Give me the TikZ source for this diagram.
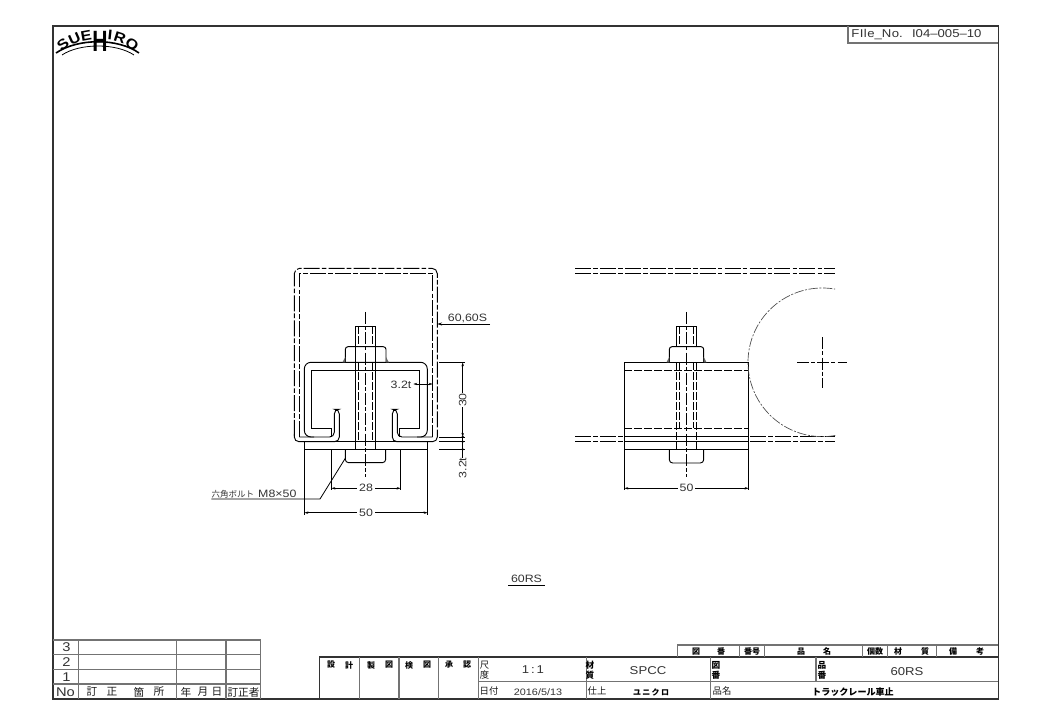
\documentclass[tikz,border=0pt]{standalone}
\usepackage{graphicx}
\usepackage{fontspec}
\setmainfont[FakeStretch=1.16]{Liberation Sans}
\newfontfamily\cjk{Noto Sans CJK JP}
\usetikzlibrary{arrows.meta}
\tikzset{
 ln/.style={line width=0.7pt,black},
 dd/.style={line width=0.7pt,black,dash pattern=on 12pt off 1.6pt on 3.5pt off 1.6pt},
 cl/.style={line width=0.6pt,black,dash pattern=on 9pt off 1.6pt on 3pt off 1.6pt},
 ds/.style={line width=0.7pt,black,dash pattern=on 6pt off 1.5pt},
 dim/.style={line width=0.6pt,black},
 arr/.style={dim,{Stealth[length=3pt,width=1.8pt]}-{Stealth[length=3pt,width=1.8pt]}},
 arre/.style={dim,-{Stealth[length=3.5pt,width=2.2pt]}},
 hv/.style={line width=0.9pt,black!80},
 gl/.style={line width=0.8pt,black!55},
 tx/.style={inner sep=0pt,text=black!80,font=\fontsize{8}{8}\selectfont},
 jp/.style={inner sep=0pt,text=black!90,font=\cjk\fontsize{8}{9}\selectfont,align=center},
 jb/.style={inner sep=0pt,text=black,font=\cjk\bfseries\fontsize{6}{7}\selectfont,align=center},
 lg/.style={inner sep=0pt,text=black,font=\bfseries\fontsize{10.5}{11}\selectfont},
}
\begin{document}
\begin{tikzpicture}[x=0.75pt,y=-0.75pt]
\useasboundingbox (0,0) rectangle (1050,723);
\fill[white] (0,0) rectangle (1050,723);
% frame
\draw[hv] (53,26) rectangle (998.3,699);
\draw[hv,line width=1pt] (848,26) -- (998.3,26) -- (998.3,699);
\draw[gl] (848,26) -- (848,43) -- (998.3,43);
\node[tx,font=\fontsize{8.5}{8.5}\selectfont] (fileno) at (916.5,34.5) {F\hspace{0.3pt}I\hspace{0.3pt}l\hspace{0.3pt}e\_N\hspace{0.3pt}o.\hspace{7pt}I04--005--10};
% logo
\draw[line width=1.2pt] (56,53) .. controls (78,38) and (118,38) .. (139,53);
\draw[line width=0.6pt] (62,55) .. controls (80,43) and (116,43) .. (134,55);
\node[lg,rotate=38] (lgS) at (63,44) {S};
\node[lg,rotate=24] (lgU) at (74.5,38.5) {U};
\node[lg,rotate=10] (lgE) at (86,35.5) {E};
\node[inner sep=0pt,font=\bfseries\fontsize{22}{22}\selectfont] (lgH) at (100,41) {\scalebox{0.62}[1]{H}};
\node[lg,rotate=-6] (lgI) at (110,35) {I};
\node[lg,rotate=-18] (lgR) at (120,37.5) {R};
\node[lg,rotate=-36] (lgO) at (132,44) {O};
% ===== left view
\draw[dd,rounded corners=4pt] (294.3,436) -- (294.3,268.3) -- (437.3,268.3) -- (437.3,436);
\draw[dd] (299.3,437) -- (299.3,273.3) -- (432.7,273.3) -- (432.7,437);
\draw[ln,rounded corners=3.5pt] (294.3,434) -- (294.3,441.7) -- (339.3,441.7) -- (339.3,409.3) -- (334.3,409.3) -- (334.3,437) -- (299.3,437);
\draw[ln,rounded corners=3.5pt] (437.3,434) -- (437.3,441.7) -- (392.3,441.7) -- (392.3,409.3) -- (397.3,409.3) -- (397.3,437) -- (432.7,437);
\draw[ln] (331.7,437) -- (331.7,428.3) -- (311.3,428.3) -- (311.3,370.3) -- (419.8,370.3) -- (419.8,428.3) -- (399.9,428.3) -- (399.9,437);
\draw[ln,rounded corners=5pt] (314,437) -- (304.3,437) -- (304.3,362.3) -- (427.3,362.3) -- (427.3,437) -- (417,437);
\draw[ln] (304.3,441.7) rectangle (427.7,449.5);
\draw[ln] (339.3,441.7) -- (392.3,441.7);
% left bolt
\draw[ln] (355.3,346.7) -- (355.3,326.3) -- (375.7,326.3) -- (375.7,346.7);
\draw[ds] (358.3,326.3) -- (358.3,346.7) (372.7,326.3) -- (372.7,346.7);
\draw[ln,rounded corners=2pt] (345.3,362.3) -- (345.3,346.7) -- (386,346.7) -- (386,362.3);
\fill[black!60] (342.5,362.3) -- (345.3,357) -- (345.3,362.3) -- cycle (388.8,362.3) -- (386,357) -- (386,362.3) -- cycle;
\draw[ln] (355.3,346.7) -- (355.3,449.5) (375.7,346.7) -- (375.7,449.5);
\draw[ds] (358.3,362.3) -- (358.3,441.7) (372.7,362.3) -- (372.7,441.7);
\draw[ln,rounded corners=2.5pt] (345.3,449.5) -- (345.3,462.7) -- (385.7,462.7) -- (385.7,449.5);
\draw[cl] (365.5,312) -- (365.5,477.3);
% left dims
\draw[dim] (331.3,449.5) -- (331.3,490) (400.7,449.5) -- (400.7,490);
\draw[arr] (331.3,488.3) -- (400.7,488.3);
\node[tx,fill=white,inner xsep=1.5pt] (d28) at (366,488.3) {28};
\draw[dim] (304.3,449.5) -- (304.3,515) (427.7,449.5) -- (427.7,515);
\draw[arr] (304.3,512.7) -- (427.7,512.7);
\node[tx,fill=white,inner xsep=1.5pt] (d50a) at (366,512.7) {50};
\draw[dim] (345.3,458.3) -- (320,499) -- (211.3,499);
\node[tx] (bolt) at (254,494) {{\cjk\fontsize{6.4}{6.4}\selectfont 六角ボルト}\hspace{3pt}M8×50};
\draw[arre] (490,324) -- (437.3,324);
\node[tx] (l60) at (467.5,318.5) {60,60S};
\draw[dim] (439,362.3) -- (465,362.3) (439,437) -- (465,437) (439,441.7) -- (465,441.7) (439,449.3) -- (465,449.3);
\draw[arr] (462.7,362.3) -- (462.7,437);
\draw[dim] (462.7,437) -- (462.7,458);
\fill (462.7,437) circle (1pt) (462.7,441.7) circle (1pt) (462.7,449.3) circle (1pt);
\node[tx,fill=white,inner ysep=1.5pt,rotate=90] (d30) at (462.7,400) {30};
\node[tx,rotate=90] (d32v) at (462.7,468) {3.2t};
\node[tx] (d32h) at (401,384.5) {3.2t};
\draw[arr] (413.3,384) -- (432.7,384);
% ===== right view
\draw[dd] (575,268.3) -- (835,268.3) (575,273.3) -- (835,273.3);
\draw[dd] (575,436.3) -- (622.7,436.3) (750.3,436.3) -- (835,436.3);
\draw[dd] (575,441.3) -- (622.7,441.3) (750.3,441.3) -- (835,441.3);
\draw[ln] (624.3,436.3) -- (748.7,436.3) (624.3,441.3) -- (748.7,441.3);
\draw[ln] (624.3,362.3) rectangle (748.7,449.7);
\draw[ds] (624.3,370) -- (748.7,370) (624.3,428.3) -- (748.7,428.3);
\draw[ln] (676.3,346.7) -- (676.3,326.3) -- (696.7,326.3) -- (696.7,346.7);
\draw[ds] (679.3,326.3) -- (679.3,346.7) (693.7,326.3) -- (693.7,346.7);
\draw[ln,rounded corners=2pt] (669.3,362.3) -- (669.3,346.7) -- (703.7,346.7) -- (703.7,362.3);
\fill[black!60] (666.5,362.3) -- (669.3,357) -- (669.3,362.3) -- cycle (706.5,362.3) -- (703.7,357) -- (703.7,362.3) -- cycle;
\draw[ds] (676.3,362.3) -- (676.3,441.3) (696.7,362.3) -- (696.7,441.3);
\draw[ln] (676.3,441.3) -- (676.3,449.7) (696.7,441.3) -- (696.7,449.7);
\draw[ds] (679.3,362.3) -- (679.3,428.3) (693.7,362.3) -- (693.7,428.3);
\draw[ln,rounded corners=2.5pt] (669.3,449.7) -- (669.3,463) -- (703.7,463) -- (703.7,449.7);
\draw[cl] (686.3,312) -- (686.3,477.3);
\draw[dim] (624.3,449.7) -- (624.3,490) (748.7,449.7) -- (748.7,490);
\draw[arr] (624.3,488.3) -- (748.7,488.3);
\node[tx,fill=white,inner xsep=1.5pt] (d50b) at (686.5,488.3) {50};
\draw[line width=0.5pt,black!70,dash pattern=on 7pt off 1.2pt on 1.5pt off 1.2pt] plot[domain=80:280,samples=120] ({822.3+74.3*cos(\x)},{362.3+74.3*sin(\x)});
\draw[cl] (797,362.3) -- (847.3,362.3) (822.3,337.3) -- (822.3,387.7);
% bottom title
\node[tx] (title) at (526.5,579) {60RS};
\draw[dim] (508,585) -- (545,585);
% revision table
\draw[gl] (53,640) -- (260.7,640) -- (260.7,699);
\draw[gl] (53,654.3) -- (260.7,654.3) (53,669.3) -- (260.7,669.3) (53,684) -- (260.7,684);
\draw[gl] (78.7,640) -- (78.7,699) (176.7,640) -- (176.7,699) (226,640) -- (226,699);
\node[tx,font=\fontsize{9.5}{9.5}\selectfont] (r3) at (66.5,647.3) {3};
\node[tx,font=\fontsize{9.5}{9.5}\selectfont] (r2) at (66.5,662) {2};
\node[tx,font=\fontsize{9.5}{9.5}\selectfont] (r1) at (66.5,677) {1};
\node[tx,font=\fontsize{9.5}{9.5}\selectfont] (rNo) at (65.5,692) {No};
\node[jp] (a1) at (92,692) {訂};
\node[jp] (a2) at (112,692) {正};
\node[jp] (a3) at (139,692) {箇};
\node[jp] (a4) at (159,692) {所};
\node[jp] (a5) at (186,692) {年};
\node[jp] (a6) at (203,692) {月};
\node[jp] (a7) at (217,692) {日};
\node[jp,font=\cjk\fontsize{8}{9}\selectfont] (a8) at (243.5,692) {訂正者};
% main title block
\draw[hv] (319.3,657) -- (998.3,657);
\draw[hv] (319.3,657) -- (319.3,699);
\draw[gl] (359.3,657) -- (359.3,699) (399,657) -- (399,699) (438.3,657) -- (438.3,699) (478.3,657) -- (478.3,699);
\draw[gl] (586.3,657) -- (586.3,699) (710.7,657) -- (710.7,699) (816,657) -- (816,681.7);
\draw[gl] (478.3,681.7) -- (998.3,681.7);
\draw[gl] (677.3,645) -- (998.3,645) (677.3,645) -- (677.3,657);
\draw[gl] (739.3,645) -- (739.3,657) (764.3,645) -- (764.3,657) (862.7,645) -- (862.7,657) (887.3,645) -- (887.3,657) (936.7,645) -- (936.7,657);
\node[jb] (b1) at (331,665) {設};
\node[jb] (b2) at (349,665) {計};
\node[jb] (b3) at (371,665) {製};
\node[jb] (b4) at (389,665) {図};
\node[jb] (b5) at (409,665) {検};
\node[jb] (b6) at (427,665) {図};
\node[jb] (b7) at (449,665) {承};
\node[jb] (b8) at (467,665) {認};
\node[jp,font=\cjk\fontsize{7}{7.6}\selectfont] (c1) at (484.5,670) {尺\\度};
\node[tx,font=\fontsize{8.5}{8.5}\selectfont] (c2) at (533,670) {1\,:\,1};
\node[jp,font=\cjk\fontsize{7}{7.6}\selectfont] (c3) at (489,691) {日付};
\node[tx,font=\fontsize{7}{7}\selectfont] (c4) at (538,692) {2016/5/13};
\node[jb,font=\cjk\bfseries\fontsize{6.5}{7.4}\selectfont] (c5) at (590,670) {材\\質};
\node[tx,font=\fontsize{8.5}{8.5}\selectfont] (c6) at (648,671) {SPCC};
\node[jp,font=\cjk\fontsize{7}{7.6}\selectfont] (c7) at (597,691) {仕上};
\node[jb] (c8) at (651,692) {ユ\hspace{1pt}ニ\hspace{1pt}ク\hspace{1pt}ロ};
\node[jb,font=\cjk\bfseries\fontsize{6.5}{7.4}\selectfont] (c9) at (716,670) {図\\番};
\node[jb,font=\cjk\bfseries\fontsize{6.5}{7.4}\selectfont] (c10) at (822,670) {品\\番};
\node[tx,font=\fontsize{8.5}{8.5}\selectfont] (c11) at (907,672) {60RS};
\node[jp,font=\cjk\fontsize{7}{7.6}\selectfont] (c12) at (722,691) {品名};
\node[jb,font=\cjk\bfseries\fontsize{6.8}{7}\selectfont] (c13) at (853,692) {トラックレール車止};
\node[jb] (e1) at (696,651.5) {図};
\node[jb] (e2) at (721,651.5) {番};
\node[jb] (e3) at (752,651.5) {番号};
\node[jb] (e4) at (801,651.5) {品};
\node[jb] (e5) at (827,651.5) {名};
\node[jb] (e6) at (875,651.5) {個数};
\node[jb] (e7) at (898,651.5) {材};
\node[jb] (e8) at (925,651.5) {質};
\node[jb] (e9) at (953,651.5) {備};
\node[jb] (e10) at (980,651.5) {考};
\end{tikzpicture}
\end{document}
